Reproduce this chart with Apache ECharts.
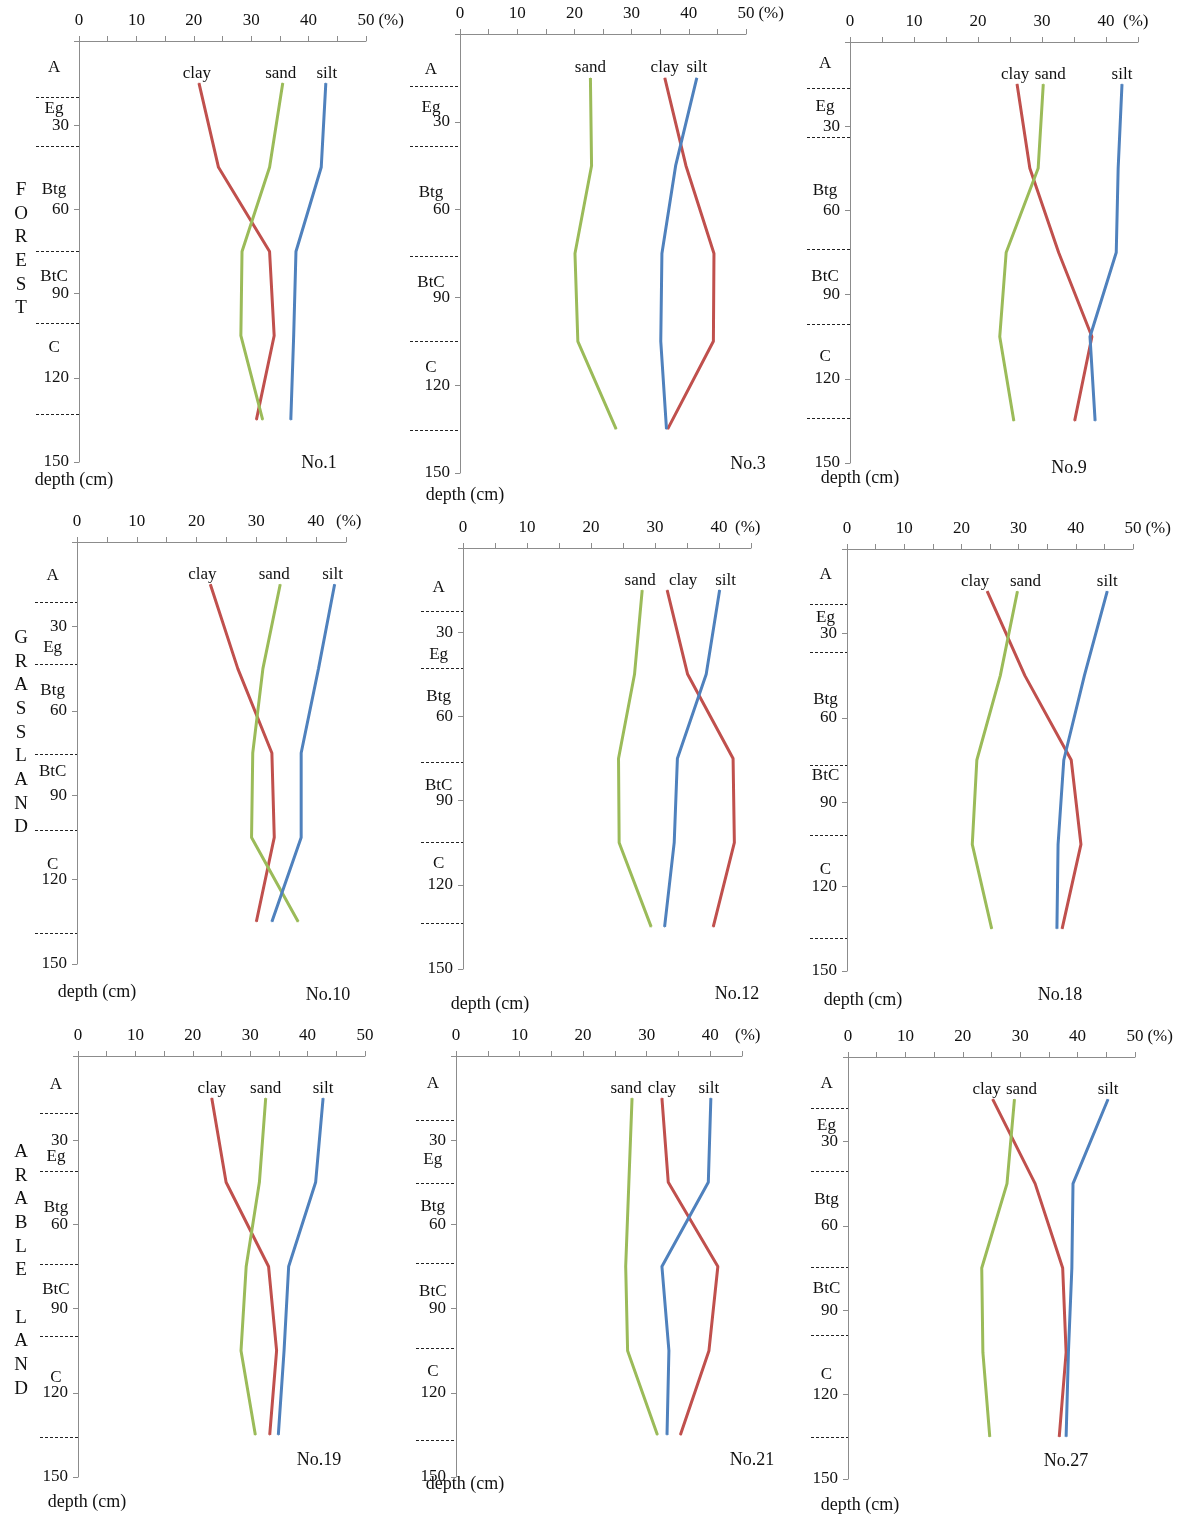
<!DOCTYPE html>
<html>
<head>
<meta charset="utf-8">
<title>Particle-size profiles</title>
<script src="https://cdn.jsdelivr.net/npm/echarts@6/dist/echarts.min.js"></script>
<style>
  html, body { margin: 0; padding: 0; background: #fff; }
  #chart { width: 1184px; height: 1514px; }
</style>
</head>
<body>
<div id="chart"></div>
<script>
// profiles, left to right, top to bottom
var profiles = ['No.1', 'No.3', 'No.9', 'No.10', 'No.12', 'No.18', 'No.19', 'No.21', 'No.27'];
var landUse = ['FOREST', 'GRASSLAND', 'ARABLE LAND'];
var depths = [15, 45, 75, 105, 135];            // sampling depth (cm)
var horizons = ['A', 'Eg', 'Btg', 'BtC', 'C'];
var xMax = [50, 50, 45, 45, 45, 50, 50, 45, 50]; // end of the % axis

// content (%) at each sampling depth
var clay = [
    [20.9, 24.3, 33.2, 34.0, 30.9],
    [35.8, 39.5, 44.4, 44.3, 36.3],
    [26.1, 28.1, 32.6, 37.8, 35.1],
    [22.3, 26.9, 32.6, 33.0, 30.0],
    [31.9, 35.1, 42.2, 42.4, 39.1],
    [24.5, 31.1, 39.2, 40.9, 37.6],
    [23.3, 25.8, 33.2, 34.6, 33.4],
    [32.4, 33.4, 41.2, 39.8, 35.3],
    [25.2, 32.6, 37.4, 38.0, 36.8]
];
var sand = [
    [35.5, 33.2, 28.4, 28.2, 32.0],
    [22.8, 23.0, 20.1, 20.6, 27.3],
    [30.2, 29.4, 24.4, 23.4, 25.6],
    [34.0, 31.1, 29.4, 29.2, 37.0],
    [28.0, 26.8, 24.3, 24.4, 29.4],
    [29.8, 26.8, 22.7, 21.9, 25.3],
    [32.7, 31.6, 29.3, 28.4, 30.9],
    [27.7, 27.2, 26.7, 27.0, 31.7],
    [29.0, 27.7, 23.3, 23.5, 24.7]
];
var silt = [
    [43.0, 42.2, 37.8, 37.4, 36.9],
    [41.4, 37.7, 35.3, 35.1, 36.1],
    [42.5, 41.9, 41.6, 37.5, 38.3],
    [43.1, 40.4, 37.5, 37.5, 32.6],
    [40.1, 38.0, 33.5, 33.0, 31.5],
    [45.5, 41.5, 37.9, 36.9, 36.7],
    [42.7, 41.4, 36.7, 35.9, 34.9],
    [40.1, 39.7, 32.4, 33.5, 33.2],
    [45.3, 39.2, 39.0, 38.4, 38.0]
];

// horizon boundaries (cm) and where each horizon name sits (cm)
var horizonBounds = [
    [20, 37.5, 75, 100.5, 133],
    [17.7, 38.4, 75.8, 105, 135.3],
    [16.4, 33.8, 73.9, 100.6, 134],
    [21.4, 43.5, 75.6, 102.4, 139],
    [22.7, 43, 76.5, 104.7, 133.8],
    [19.8, 36.7, 77, 101.9, 138.4],
    [20.4, 41.2, 74.2, 99.8, 135.7],
    [22.9, 45.5, 73.7, 104, 136.9],
    [18.1, 40.6, 74.7, 98.8, 135.2]
];
var horizonLabelDepth = [
    [9.3, 24, 52.7, 84, 109],
    [12, 25, 54, 85, 114],
    [7.7, 23, 52.8, 83.6, 112],
    [11.9, 37.5, 52.7, 81.5, 114.5],
    [14, 37.7, 52.8, 84.6, 112.5],
    [8.9, 24.3, 53.3, 80.6, 113.7],
    [10, 35.6, 54, 83.2, 114.3],
    [9.6, 36.9, 53.5, 83.8, 112.3],
    [9.5, 24.3, 50.4, 82.2, 112.7]
];

// page layout of each panel (pixels)
var layout = [
    { left: 79,  top: 41,   width: 287, height: 421, strip: 36,  gap: 10,  shift: [-2, -2, 1],  depthAt: [74, 480],  tagAt: [319, 463] },
    { left: 460, top: 34,   width: 286, height: 439, strip: 410, gap: 9,   shift: [0, 0, 0],    depthAt: [465, 495], tagAt: [748, 464] },
    { left: 850, top: 42,   width: 288, height: 421, strip: 807, gap: -15, shift: [-2, 7, 0],   depthAt: [860, 478], tagAt: [1069, 468] },
    { left: 77,  top: 542,  width: 269, height: 422, strip: 35,  gap: -10, shift: [-8, -6, -2], depthAt: [97, 992],  tagAt: [328, 995] },
    { left: 463, top: 548,  width: 288, height: 421, strip: 421, gap: -16, shift: [16, -2, 6],  depthAt: [490, 1004], tagAt: [737, 994] },
    { left: 847, top: 549,  width: 286, height: 422, strip: 810, gap: 10,  shift: [-12, 8, 0],  depthAt: [863, 1000], tagAt: [1060, 995] },
    { left: 78,  top: 1056, width: 287, height: 421, strip: 40,  gap: null, shift: [0, 0, 0],   depthAt: [87, 1502], tagAt: [319, 1460] },
    { left: 456, top: 1056, width: 286, height: 421, strip: 416, gap: -7,  shift: [0, -6, -2],  depthAt: [465, 1484], tagAt: [752, 1460] },
    { left: 848, top: 1057, width: 287, height: 422, strip: 811, gap: 2,   shift: [-6, 7, 0],   depthAt: [860, 1505], tagAt: [1066, 1461] }
];
var wordTop = [178, 626, 1140];

var FONT = "'Liberation Serif', 'Times New Roman', serif";
var AXIS_GREY = '#8c8c8c';
var INK = '#111';
var components = [
    { name: 'clay', values: clay, color: '#c0504d' },
    { name: 'sand', values: sand, color: '#9bbb59' },
    { name: 'silt', values: silt, color: '#4f81bd' }
];

var grids = [], xAxes = [], yAxes = [], series = [], graphics = [];

profiles.forEach(function (p, i) {
    var L = layout[i];
    var main = 2 * i, strip = 2 * i + 1;

    grids.push({ left: L.left, top: L.top, width: L.width, height: L.height });
    grids.push({ left: L.strip, top: L.top, width: L.left - L.strip, height: L.height });

    xAxes.push({
        gridIndex: main, type: 'value', position: 'top',
        min: 0, max: xMax[i], interval: 5,
        name: L.gap === null ? '' : '(%)', nameLocation: 'end', nameGap: L.gap || 0,
        nameTextStyle: { color: INK, fontSize: 17, fontFamily: FONT, verticalAlign: 'bottom', padding: [0, 0, 12, 0] },
        axisLine: { show: true, onZero: false, lineStyle: { color: AXIS_GREY, width: 1 } },
        axisTick: { show: true, length: 5, lineStyle: { color: AXIS_GREY } },
        axisLabel: {
            color: INK, fontSize: 17, fontFamily: FONT, margin: 12,
            formatter: function (v) { return v % 10 === 0 ? String(v) : ''; }
        },
        splitLine: { show: false }
    });
    xAxes.push({ gridIndex: strip, type: 'value', min: 0, max: 1, show: false });

    yAxes.push({
        gridIndex: main, type: 'value', inverse: true,
        min: 0, max: 150, interval: 30,
        axisLine: { show: true, onZero: false, lineStyle: { color: AXIS_GREY, width: 1 } },
        axisTick: { show: true, length: 5, lineStyle: { color: AXIS_GREY } },
        axisLabel: {
            color: INK, fontSize: 17, fontFamily: FONT, margin: 10,
            formatter: function (v) { return v === 0 ? '' : String(v); }
        },
        splitLine: { show: false }
    });
    yAxes.push({ gridIndex: strip, type: 'value', inverse: true, min: 0, max: 150, show: false });

    // clay / sand / silt profiles
    components.forEach(function (c, k) {
        series.push({
            type: 'line', name: c.name,
            xAxisIndex: main, yAxisIndex: main,
            data: depths.map(function (d, j) { return [c.values[i][j], d]; }),
            symbol: 'circle', symbolSize: 1, showSymbol: true,
            lineStyle: { color: c.color, width: 3 },
            itemStyle: { color: c.color },
            label: {
                show: true, position: 'top', distance: 1,
                offset: [L.shift[k], 0],
                color: INK, fontSize: 17, fontFamily: FONT,
                formatter: function (prm) { return prm.dataIndex === 0 ? c.name : ''; }
            },
            silent: true, animation: false
        });
    });

    // horizon names (no visible line) and dashed boundaries left of the depth axis
    series.push({
        type: 'line',
        xAxisIndex: strip, yAxisIndex: strip,
        data: horizonLabelDepth[i].map(function (d) { return [0.42, d]; }),
        symbol: 'circle', symbolSize: 0.5, showSymbol: true,
        lineStyle: { width: 0, opacity: 0 },
        itemStyle: { color: INK },
        label: {
            show: true, position: 'top', distance: -9,
            color: INK, fontSize: 17, fontFamily: FONT,
            textBorderColor: 'transparent', textBorderWidth: 0,
            formatter: function (prm) { return horizons[prm.dataIndex]; }
        },
        markLine: {
            silent: true, symbol: ['none', 'none'], animation: false,
            label: { show: false },
            lineStyle: { color: '#222', width: 1, type: [3, 2] },
            data: horizonBounds[i].map(function (b) { return { yAxis: b }; })
        },
        silent: true, animation: false
    });

    graphics.push({
        type: 'text', x: L.depthAt[0], y: L.depthAt[1],
        style: { text: 'depth (cm)', fill: INK, fontSize: 18, fontFamily: FONT, align: 'center', verticalAlign: 'middle' }
    });
    graphics.push({
        type: 'text', x: L.tagAt[0], y: L.tagAt[1],
        style: { text: p, fill: INK, fontSize: 18, fontFamily: FONT, align: 'center', verticalAlign: 'middle' }
    });
});

// land-use words written downwards
landUse.forEach(function (w, r) {
    graphics.push({
        type: 'text', x: 21, y: wordTop[r],
        style: {
            text: w.split('').join('\n'), fill: INK,
            fontSize: 19, lineHeight: 23.7, fontFamily: FONT,
            align: 'center', verticalAlign: 'top'
        }
    });
});

var chart = echarts.init(document.getElementById('chart'));
chart.setOption({
    backgroundColor: '#fff',
    animation: false,
    textStyle: { fontFamily: FONT },
    grid: grids,
    xAxis: xAxes,
    yAxis: yAxes,
    series: series,
    graphic: graphics
});
</script>
</body>
</html>
